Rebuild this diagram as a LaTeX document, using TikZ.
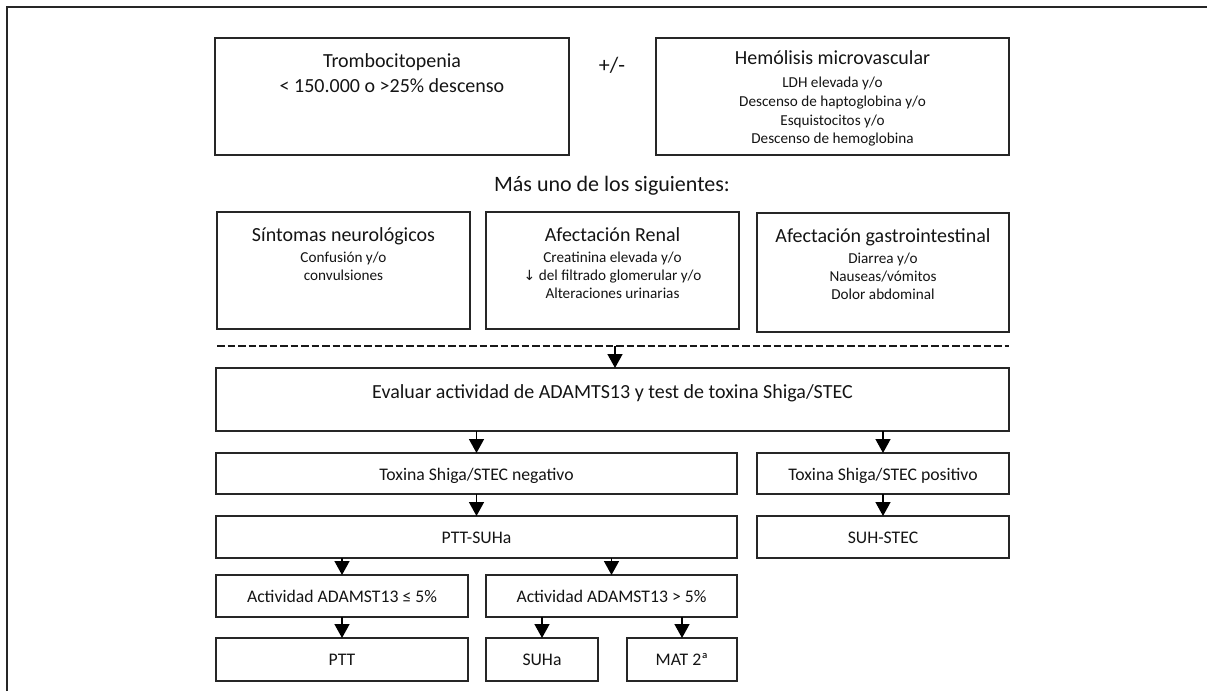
\documentclass[tikz,border=0pt]{standalone}
\usepackage{fontspec}
\setmainfont{Carlito}
\newfontfamily\symf{DejaVu Sans}
\usetikzlibrary{arrows.meta}
\newcommand\ftitle{\fontsize{20}{24}\selectfont}
\newcommand\fbig{\fontsize{22}{26}\selectfont}
\newcommand\fbody{\fontsize{15.2}{19}\selectfont}
\newcommand\flab{\fontsize{17.7}{21}\selectfont}
\tikzset{
  box/.style={draw=black!85, line width=1.9pt, rectangle, inner sep=0pt, outer sep=0pt},
  txt/.style={text=black!92, inner sep=0pt, anchor=base, align=center},
  arr/.style={draw=black, line width=1.5pt, -{Triangle[width=15pt,length=14pt]}},
  frame/.style={draw=black!85, line width=1.6pt},
  dline/.style={draw=black!90, line width=2.8pt, dash pattern=on 7.5pt off 3pt}
}
\begin{document}
\begin{tikzpicture}[x=1pt,y=-1pt]
\useasboundingbox (0,0) rectangle (1207,691);
% frame
\coordinate (fa) at (7,691);
\coordinate (fb) at (7,7);
\coordinate (fc) at (1207,7);
\draw[frame] (fa) -- (fb) -- (fc);

% top row
\node[box, minimum width=354pt, minimum height=117pt] (trombo) at (392,96.5) {};
\node[txt, font=\ftitle] (trombot) at (392,67) {Trombocitopenia};
\node[txt, font=\ftitle] (trombob) at (392,92) {< 150.000 o >25\% descenso};
\node[text=black!92, inner sep=0pt, font=\fbig] (pm) at (612,65) {+/-};
\node[box, minimum width=353pt, minimum height=117pt] (hemo) at (832.5,96.5) {};
\node[txt, font=\ftitle] (hemot) at (832.5,64) {Hemólisis microvascular};
\node[txt, font=\fbody] (hemo1) at (832.5,87) {LDH elevada y/o};
\node[txt, font=\fbody] (hemo2) at (832.5,106) {Descenso de haptoglobina y/o};
\node[txt, font=\fbody] (hemo3) at (832.5,125) {Esquistocitos y/o};
\node[txt, font=\fbody] (hemo4) at (832.5,143.5) {Descenso de hemoglobina};

\node[txt, font=\fbig] (mas) at (612,191) {Más uno de los siguientes:};

% second row
\node[box, minimum width=253pt, minimum height=117pt] (sint) at (343.5,270.5) {};
\node[txt, font=\ftitle] (sintt) at (343.5,241) {Síntomas neurológicos};
\node[txt, font=\fbody] (sint1) at (343.5,262) {Confusión y/o};
\node[txt, font=\fbody] (sint2) at (343.5,280) {convulsiones};
\node[box, minimum width=253pt, minimum height=117pt] (renal) at (612.5,270.5) {};
\node[txt, font=\ftitle] (renalt) at (612.5,241) {Afectación Renal};
\node[txt, font=\fbody] (renal1) at (612.5,262) {Creatinina elevada y/o};
\node[txt, font=\fbody] (renal2) at (612.5,280) {{\symf\fontsize{14}{15}\selectfont ↓} del filtrado glomerular y/o};
\node[txt, font=\fbody] (renal3) at (612.5,298) {Alteraciones urinarias};
\node[box, minimum width=252pt, minimum height=119pt] (gastro) at (883,272.5) {};
\node[txt, font=\ftitle] (gastrot) at (883,242) {Afectación gastrointestinal};
\node[txt, font=\fbody] (gastro1) at (883,263) {Diarrea y/o};
\node[txt, font=\fbody] (gastro2) at (883,281) {Nauseas/vómitos};
\node[txt, font=\fbody] (gastro3) at (883,299) {Dolor abdominal};

% dashed separator
\coordinate (dl) at (217,346);
\coordinate (dr) at (1009,346);
\draw[dline] (dl) -- (dr);

% evaluation
\node[box, minimum width=793pt, minimum height=63pt] (eval) at (612.5,399.5) {};
\node[txt, font=\ftitle] (evalt) at (612.5,398) {Evaluar actividad de ADAMTS13 y test de toxina Shiga/STEC};

\node[box, minimum width=521pt, minimum height=41pt] (toxneg) at (476.5,473.5) {};
\node[txt, font=\flab] (toxnegt) at (476.5,480) {Toxina Shiga/STEC negativo};
\node[box, minimum width=252pt, minimum height=41pt] (toxpos) at (883,473.5) {};
\node[txt, font=\flab] (toxpost) at (883,480) {Toxina Shiga/STEC positivo};

\node[box, minimum width=521pt, minimum height=42pt] (pttsuha) at (476.5,537) {};
\node[txt, font=\flab] (pttsuhat) at (476.5,543) {PTT-SUHa};
\node[box, minimum width=252pt, minimum height=42pt] (suhstec) at (883,537) {};
\node[txt, font=\flab] (suhstect) at (883,543) {SUH-STEC};

\node[box, minimum width=252pt, minimum height=42pt] (act1) at (342,596) {};
\node[txt, font=\flab] (act1t) at (342,602.5) {Actividad ADAMST13 ≤ 5\%};
\node[box, minimum width=251pt, minimum height=42pt] (act2) at (611.5,596) {};
\node[txt, font=\flab] (act2t) at (611.5,602.5) {Actividad ADAMST13 > 5\%};

\node[box, minimum width=252pt, minimum height=43pt] (ptt) at (342,659.5) {};
\node[txt, font=\flab] (pttt) at (342,665.5) {PTT};
\node[box, minimum width=112pt, minimum height=43pt] (suha) at (542,659.5) {};
\node[txt, font=\flab] (suhat) at (542,665.5) {SUHa};
\node[box, minimum width=110pt, minimum height=43pt] (mat) at (682,659.5) {};
\node[txt, font=\flab] (matt) at (682,665.5) {MAT 2ª};

% arrows
\coordinate (dx) at (615,346);
\draw[arr] (dx) -- (eval.north -| dx);
\draw[arr] (eval.south -| toxneg.north) -- (toxneg.north);
\draw[arr] (eval.south -| toxpos.north) -- (toxpos.north);
\draw[arr] (toxneg.south) -- (pttsuha.north);
\draw[arr] (toxpos.south) -- (suhstec.north);
\draw[arr] (pttsuha.south -| act1.north) -- (act1.north);
\draw[arr] (pttsuha.south -| act2.north) -- (act2.north);
\draw[arr] (act1.south) -- (ptt.north);
\draw[arr] (act2.south -| suha.north) -- (suha.north);
\draw[arr] (act2.south -| mat.north) -- (mat.north);
\end{tikzpicture}
\end{document}
